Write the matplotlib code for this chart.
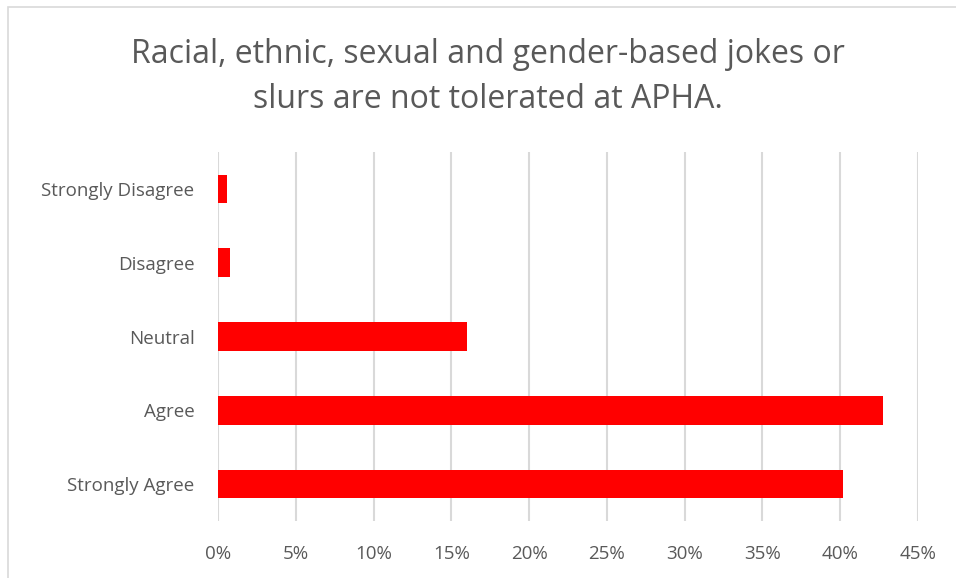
import matplotlib.pyplot as plt
from matplotlib.patches import Rectangle
from matplotlib.ticker import PercentFormatter

categories = ['Strongly Disagree', 'Disagree', 'Neutral', 'Agree', 'Strongly Agree']
shares = [0.56, 0.8, 16.03, 42.72, 40.17]
xticks = [0, 5, 10, 15, 20, 25, 30, 35, 40, 45]
title_lines = ['Racial, ethnic, sexual and gender-based jokes or',
               'slurs are not tolerated at APHA.']

plt.rcParams['font.family'] = ['Open Sans', 'DejaVu Sans']

fig = plt.figure(figsize=(9.56, 5.78), dpi=100)
ax = fig.add_axes([218 / 956, 1 - 521 / 578, 700 / 956, 369 / 578])

ypos = range(len(categories))
ax.barh(ypos, shares, height=0.39, color='#ff0000', zorder=3)
ax.set_yticks(list(ypos))
ax.set_yticklabels(categories)
ax.set_ylim(len(categories) - 0.5, -0.5)
ax.set_xlim(0, 45)
ax.set_xticks(xticks)
ax.xaxis.set_major_formatter(PercentFormatter(decimals=0))
ax.grid(axis='x', color='#d9d9d9', linewidth=1.5, zorder=0)
for s in ax.spines.values():
    s.set_visible(False)
ax.tick_params(length=0, labelsize=13.5, labelcolor='#595959')
ax.tick_params(axis='x', pad=17)
ax.tick_params(axis='y', pad=17)

# title, two lines placed on their baselines
for line, base in zip(title_lines, [63, 108]):
    fig.text(488 / 956, 1 - base / 578, line, ha='center', va='baseline',
             fontsize=23, color='#595959')

# chart area border
fig.patches.append(Rectangle((8 / 956, -0.1), 1.2, 1 - 7 / 578 + 0.1, transform=fig.transFigure,
                             fill=False, edgecolor='#d9d9d9', linewidth=1.2))

fig.savefig('out.png', dpi=100)
